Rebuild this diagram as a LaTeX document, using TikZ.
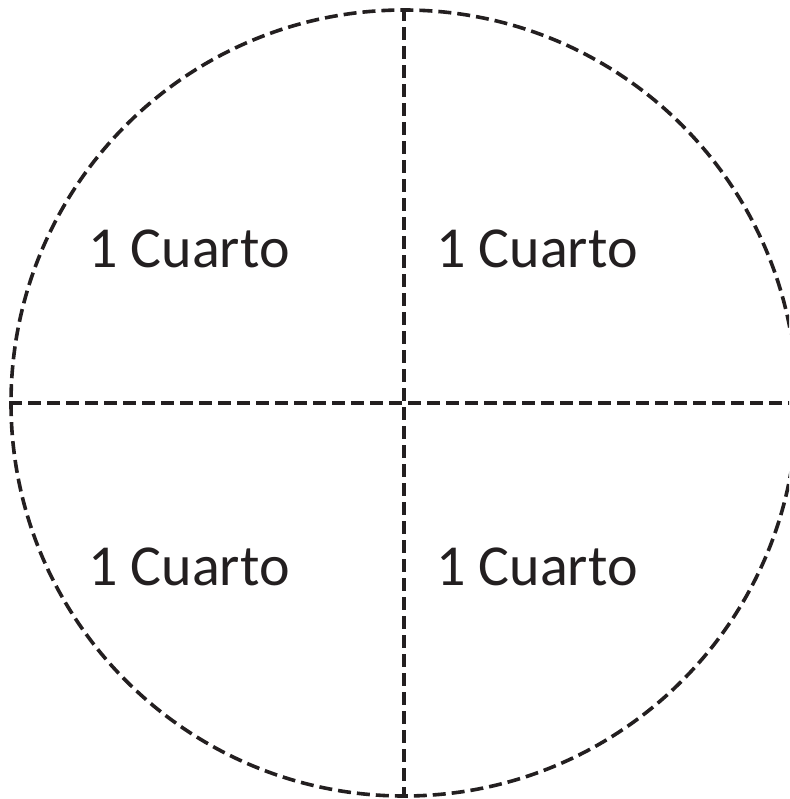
\documentclass[tikz,border=0pt]{standalone}
\usepackage{fontspec}
\setmainfont{Carlito}
\usetikzlibrary{positioning}
\definecolor{ink}{HTML}{231F20}
\tikzset{
  cutline/.style={draw=ink, line width=3.6pt, dash pattern=on 13pt off 6pt},
  quarter/.style={font=\fontsize{58}{70}\selectfont, text=ink, anchor=base, inner sep=0pt}
}

\begin{document}
\begin{tikzpicture}[x=1pt, y=-1pt]
  \useasboundingbox (0,0) rectangle (789,799);
  \begin{scope}
    \clip (0,0) rectangle (789,799);
    \node[cutline, circle, minimum size=786pt, inner sep=0pt] (pie) at (404,403) {};
    \draw[cutline] (pie.north) -- (pie.south);
    \draw[cutline] (pie.west) -- (pie.east);
  \end{scope}
  \foreach \col/\x in {l/189, r/537} {
    \node[quarter] (top\col) at (\x,267) {1 Cuarto};
    \node[quarter] (bot\col) at (\x,585) {1 Cuarto};
  }
\end{tikzpicture}
\end{document}
